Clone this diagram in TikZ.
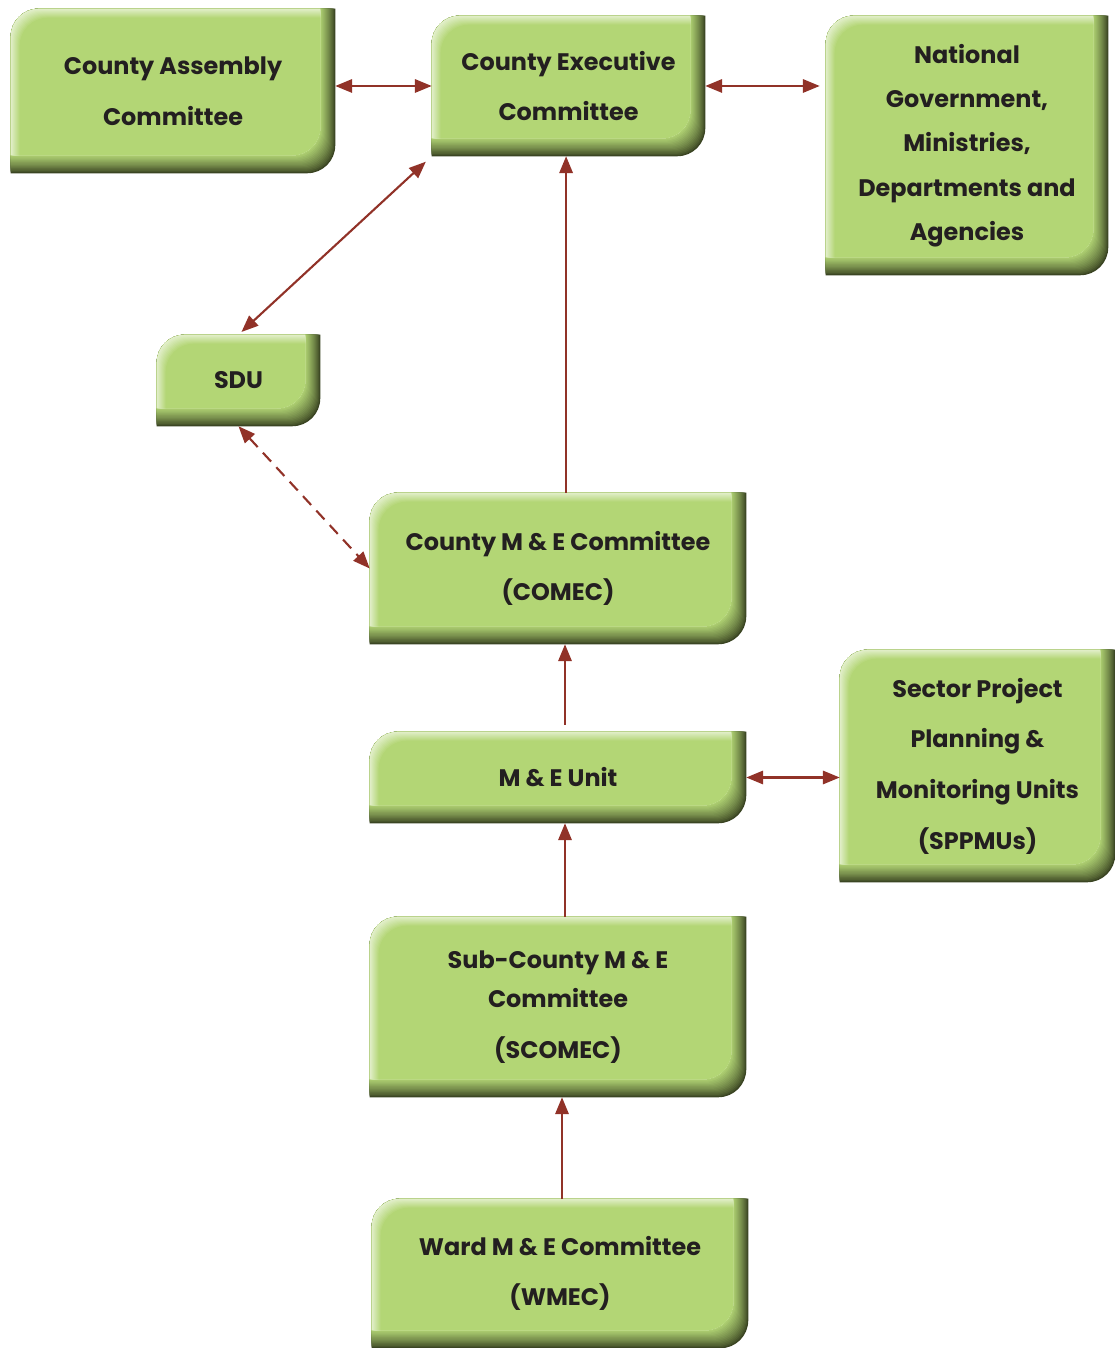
\documentclass[tikz,border=0pt]{standalone}
\usepackage{fontspec}
\setmainfont{Poppins}
\usepackage{tikz}
\usetikzlibrary{positioning, calc, arrows.meta, backgrounds}

\definecolor{panelgreen}{RGB}{179,214,117}
\definecolor{paneldark}{RGB}{58,68,34}
\definecolor{panellight}{RGB}{226,239,202}
\definecolor{linkred}{RGB}{145,50,40}
\definecolor{inkgray}{RGB}{35,31,32}

% panel outline: node, insets left/top/right/bottom (px)
\newcommand{\rad}{28}
\newcommand{\panelshape}[5]{%
  ($(#1.north west)+(#2,-#3-\rad)$) arc[start angle=180, end angle=90, radius=\rad]
  -- ($(#1.north east)+(-#4,-#3)$) -- ($(#1.south east)+(-#4,#5+\rad)$)
  arc[start angle=0, end angle=-90, radius=\rad] -- ($(#1.south west)+(#2,#5)$) -- cycle}

\tikzset{
  panel/.style={inner sep=0pt, align=center, text=inkgray,
    font=\bfseries\fontsize{17}{36}\selectfont},
  boxsize/.style 2 args={minimum width=#1*0.025cm, minimum height=#2*0.025cm},
  link/.style={draw=linkred, line width=1.5pt, -{Triangle[length=12pt,width=9.5pt]}},
  twoway/.style={link, {Triangle[length=12pt,width=9.5pt]}-{Triangle[length=12pt,width=9.5pt]}},
}

\begin{document}
\begin{tikzpicture}[x=0.025cm, y=0.025cm]
        \useasboundingbox (0,0) rectangle (1115,1348);

        % Committees and units
        \node[panel, boxsize={324}{164}] (ca) at (173,1257) {County Assembly\\Committee};
        \node[panel, boxsize={273}{140}] (cec) at (568.5,1262) {County Executive\\Committee};
        \node[panel, boxsize={282}{259}, font=\bfseries\fontsize{17}{31.5}\selectfont] (ng) at (967,1202.5)
            {National\\Government,\\Ministries,\\Departments and\\Agencies};
        \node[panel, boxsize={163}{91}] (sdu) at (238.5,967.5) {SDU};
        \node[panel, boxsize={376}{151}] (comec) at (558,779.5) {County M \& E Committee\\(COMEC)};
        \node[panel, boxsize={376}{91}] (meu) at (558,570.5) {M \& E Unit};
        \node[panel, boxsize={275}{232}] (sppmu) at (977.5,582)
            {Sector Project\\Planning \&\\Monitoring Units\\(SPPMUs)};
        \node[panel, boxsize={376}{180}] (scomec) at (558,341) {Sub-County M \& E\\[-8pt]Committee\\(SCOMEC)};
        \node[panel, boxsize={376}{149}] (wmec) at (560,74.5) {Ward M \& E Committee\\(WMEC)};

        % Bevelled green panels
        \begin{scope}[on background layer]
            \foreach \n in {ca,cec,ng,sdu,comec,meu,sppmu,scomec,wmec}{
                \fill[paneldark] \panelshape{\n}{0}{0}{0}{0};
                \foreach \k in {1,...,15}{
                    \pgfmathtruncatemacro\p{100*(\k/15)^0.8}
                    \fill[panelgreen!\p!paneldark] \panelshape{\n}{0}{0}{\k}{\k*1.2};
                }
                \fill[panellight] \panelshape{\n}{0}{0}{15}{18};
                \foreach \k in {1,...,9}{
                    \pgfmathtruncatemacro\p{100*\k/9}
                    \fill[panelgreen!\p!panellight] \panelshape{\n}{\k}{\k}{15}{18};
                }
            }
        \end{scope}

        % Reporting links
        \draw[twoway] (cec.west -| ca.east) -- (cec.west);
        \draw[twoway, shorten >=0.15cm] (cec.east) -- (cec.east -| ng.west);
        \draw[twoway, shorten <=0.2cm, shorten >=0.1cm] (cec.south west) -- (sdu.north);
        \draw[twoway, dash pattern=on 8.5pt off 5.5pt] (sdu.south) -- (comec.west);
        \draw[link] ([xshift=-0.06cm]comec.north -| cec.south) -- ([xshift=-0.06cm]cec.south);
        \draw[link] ([xshift=0.175cm, yshift=0.18cm]meu.north) -- ([xshift=0.175cm]comec.south);
        \draw[twoway] (meu.east) -- (meu.east -| sppmu.west);
        \draw[link] ([xshift=0.175cm]scomec.north) -- ([xshift=0.175cm]meu.south);
        \draw[link] ([xshift=0.05cm]wmec.north) -- ([xshift=0.05cm]wmec.north |- scomec.south);
    \end{tikzpicture}
\end{document}
